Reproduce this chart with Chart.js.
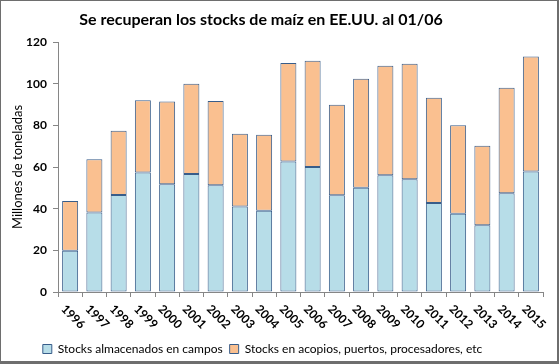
<!DOCTYPE html>
<html>
<head>
<meta charset="utf-8">
<script src="https://cdn.jsdelivr.net/npm/chart.js@4"></script>
<style>
  body { margin: 0; background: #fff; }
  #box {
    width: 559px;
    height: 364px;
    box-sizing: border-box;
    border-left: 1px solid #6e6e6e;
    border-top: 1px solid #6e6e6e;
    border-right: 2px solid #6e6e6e;
    border-bottom: 3px solid #6e6e6e;
  }
  canvas { display: block; }
</style>
</head>
<body>
<div id="box"><canvas id="chart" width="556" height="360"></canvas></div>
<script>
const years = ["1996", "1997", "1998", "1999", "2000", "2001", "2002", "2003", "2004", "2005",
  "2006", "2007", "2008", "2009", "2010", "2011", "2012", "2013", "2014", "2015"];
const campos = [19.8, 38.2, 46.6, 57.4, 51.7, 56.6, 51.2, 41.1, 39.0, 62.6,
  60.0, 46.4, 50.1, 56.0, 54.1, 42.7, 37.6, 32.0, 47.4, 57.9];
const acopios = [23.9, 25.5, 30.8, 34.6, 39.7, 43.4, 40.5, 34.9, 36.5, 47.3,
  51.0, 43.5, 52.3, 52.6, 55.5, 50.6, 42.4, 38.2, 50.7, 55.2];
const yTicks = [0, 20, 40, 60, 80, 100, 120];

const title = "Se recuperan los stocks de maíz en EE.UU. al 01/06";
const font = "Lato, 'Noto Sans', sans-serif";

// title and slanted year labels drawn by hand, legend nudged
const extras = {
  id: "extras",
  afterLayout(c) {
    const lg = c.legend;
    lg.left -= 14;
    lg.right -= 14;
    lg.top += 4;
    lg.bottom += 4;
  },
  afterDraw(c) {
    const ctx = c.ctx;
    const xs = c.scales.x;
    ctx.save();
    ctx.fillStyle = "#000";
    ctx.font = "bold 16px " + font;
    ctx.textAlign = "center";
    ctx.textBaseline = "middle";
    ctx.fillText(title, 260, 19);

    ctx.font = "bold 12px " + font;
    ctx.textAlign = "left";
    years.forEach((y, i) => {
      const px = xs.getPixelForValue(i);
      ctx.save();
      ctx.translate(px - 7, c.chartArea.bottom + 15);
      ctx.rotate(Math.PI / 4);
      ctx.fillText(y, 0, 0);
      ctx.restore();
    });
    ctx.restore();
  },
};

new Chart(document.querySelector("#chart"), {
  type: "bar",
  data: {
    labels: years,
    datasets: [
      {
        label: "Stocks almacenados en campos",
        data: campos,
        backgroundColor: "#B7DDE8",
        borderColor: "#385D8A",
        borderWidth: 1,
        borderSkipped: false,
      },
      {
        label: "Stocks en acopios, puertos, procesadores, etc",
        data: acopios,
        backgroundColor: "#FAC090",
        borderColor: "#385D8A",
        borderWidth: 1,
        borderSkipped: false,
      },
    ],
  },
  options: {
    responsive: false,
    animation: false,
    layout: { padding: { top: 41, right: 14, left: 9, bottom: 0 } },
    datasets: { bar: { categoryPercentage: 0.66, barPercentage: 1 } },
    plugins: {
      title: { display: false },
      tooltip: { enabled: false },
      legend: {
        position: "bottom",
        labels: {
          boxWidth: 9,
          boxHeight: 9,
          padding: 7,
          color: "#000",
          font: { family: font, size: 12 },
        },
      },
    },
    scales: {
      x: {
        stacked: true,
        grid: { drawOnChartArea: false, tickLength: 5, color: "#868686", offset: true },
        border: { color: "#868686" },
        ticks: { display: false },
        afterFit(s) { s.height = 40; },
      },
      y: {
        stacked: true,
        min: 0,
        max: 120,
        afterBuildTicks(s) { s.ticks = yTicks.map(v => ({ value: v })); },
        grid: { drawOnChartArea: false, tickLength: 5, color: "#868686" },
        border: { color: "#868686" },
        ticks: { color: "#000", padding: 6, font: { family: font, size: 12, weight: "bold" } },
        title: {
          display: true,
          text: "Millones de toneladas",
          color: "#000",
          font: { family: font, size: 13 },
          padding: { top: 0, bottom: 4 },
        },
        afterFit(s) { s.width = 48; },
      },
    },
  },
  plugins: [extras],
});
</script>
</body>
</html>
